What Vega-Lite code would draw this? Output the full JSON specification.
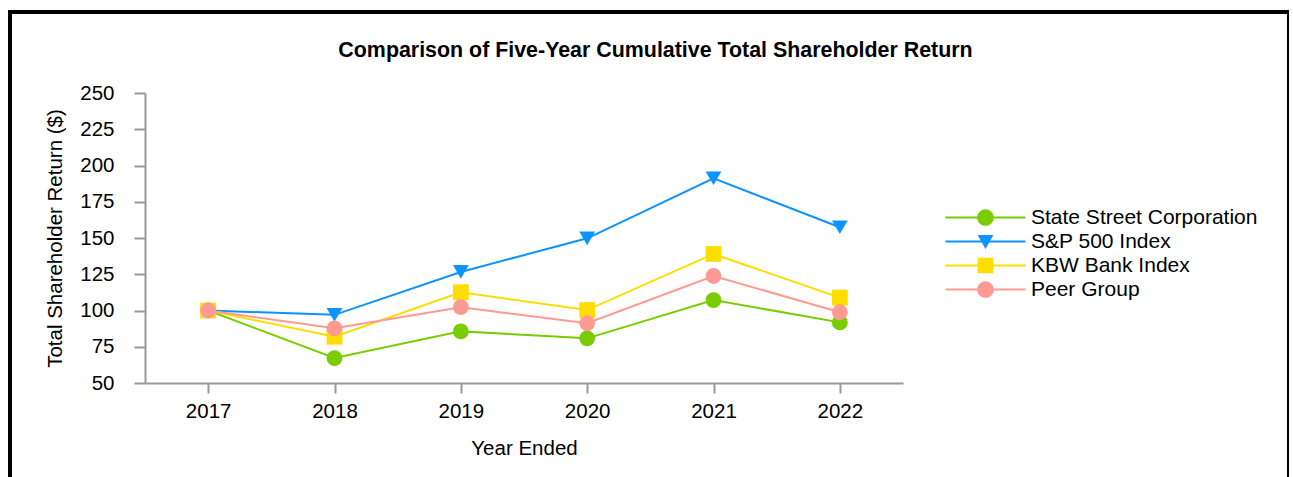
{
  "$schema": "https://vega.github.io/schema/vega-lite/v6.json",
  "width": 1279,
  "height": 465,
  "autosize": {"type": "none"},
  "padding": {"left": 10, "top": 12, "right": 0, "bottom": 0},
  "background": "white",
  "config": {
    "view": {"stroke": "black", "strokeWidth": 4, "strokeDash": [1744, 1279, 465]},
    "font": "Liberation Sans",
    "axis": {
      "grid": false,
      "domainColor": "#999999",
      "domainWidth": 2,
      "tickColor": "#999999",
      "tickWidth": 2,
      "labelColor": "black",
      "titleColor": "black",
      "labelFont": "Liberation Sans",
      "titleFont": "Liberation Sans",
      "labelFontSize": 20.5,
      "titleFontSize": 20.5,
      "titleFontWeight": "normal"
    }
  },
  "title": {
    "text": "Comparison of Five-Year Cumulative Total Shareholder Return",
    "anchor": "middle",
    "frame": "group",
    "font": "Liberation Sans",
    "fontSize": 21.4,
    "fontWeight": "bold",
    "color": "black",
    "offset": -66,
    "baseline": "alphabetic",
    "dx": 6
  },
  "data": {
    "values": [
      {"series": "State Street Corporation", "year": "2017", "value": 100},
      {"series": "State Street Corporation", "year": "2018", "value": 67.2},
      {"series": "State Street Corporation", "year": "2019", "value": 85.6},
      {"series": "State Street Corporation", "year": "2020", "value": 80.8},
      {"series": "State Street Corporation", "year": "2021", "value": 107.2},
      {"series": "State Street Corporation", "year": "2022", "value": 91.8},
      {"series": "S&P 500 Index", "year": "2017", "value": 100},
      {"series": "S&P 500 Index", "year": "2018", "value": 97},
      {"series": "S&P 500 Index", "year": "2019", "value": 126.6},
      {"series": "S&P 500 Index", "year": "2020", "value": 149.8},
      {"series": "S&P 500 Index", "year": "2021", "value": 191.2},
      {"series": "S&P 500 Index", "year": "2022", "value": 157.4},
      {"series": "KBW Bank Index", "year": "2017", "value": 100},
      {"series": "KBW Bank Index", "year": "2018", "value": 81.9},
      {"series": "KBW Bank Index", "year": "2019", "value": 112.6},
      {"series": "KBW Bank Index", "year": "2020", "value": 100.3},
      {"series": "KBW Bank Index", "year": "2021", "value": 139},
      {"series": "KBW Bank Index", "year": "2022", "value": 108.9},
      {"series": "Peer Group", "year": "2017", "value": 100},
      {"series": "Peer Group", "year": "2018", "value": 87.7},
      {"series": "Peer Group", "year": "2019", "value": 102.3},
      {"series": "Peer Group", "year": "2020", "value": 91.2},
      {"series": "Peer Group", "year": "2021", "value": 123.8},
      {"series": "Peer Group", "year": "2022", "value": 98.8}
    ]
  },
  "encoding": {
    "x": {
      "field": "year",
      "type": "ordinal",
      "scale": {"type": "point", "range": [135, 893], "padding": 0.5},
      "axis": {"title": "Year Ended", "labelAngle": 0, "offset": -94, "tickSize": 10, "labelPadding": 8, "titlePadding": 17}
    },
    "y": {
      "field": "value",
      "type": "quantitative",
      "scale": {"domain": [50, 250], "range": [371, 81], "nice": false, "zero": false},
      "axis": {"title": "Total Shareholder Return ($)", "values": [50, 75, 100, 125, 150, 175, 200, 225, 250], "offset": -135, "tickSize": 11, "labelPadding": 20, "titlePadding": 14}
    },
    "color": {
      "field": "series",
      "type": "nominal",
      "sort": null,
      "scale": {
        "domain": ["State Street Corporation", "S&P 500 Index", "KBW Bank Index", "Peer Group"],
        "range": ["#78cc00", "#0b93ff", "#ffdd00", "#ff9a92"]
      },
      "legend": {
        "title": null,
        "orient": "none",
        "legendX": 965,
        "legendY": 195,
        "padding": 0,
        "symbolSize": 256,
        "labelOffset": 35,
        "labelFont": "Liberation Sans",
        "labelFontSize": 21,
        "labelColor": "black",
        "labelLimit": 400,
        "rowPadding": 2,
        "encode": {
          "symbols": {
            "update": {
              "shape": {"signal": "datum.value === 'S&P 500 Index' ? 'M-5,-0.125H5V0.125H-5Z M-0.98,-0.8H0.98L0,0.95Z' : datum.value === 'KBW Bank Index' ? 'M-5,-0.125H5V0.125H-5Z M-0.98,-0.98H0.98V0.98H-0.98Z' : 'M-5,-0.125H5V0.125H-5Z M1.04,0A1.04,1.04 0 1,1 -1.04,0A1.04,1.04 0 1,1 1.04,0Z'"},
              "fill": {"scale": "color", "field": "value"},
              "stroke": {"value": "transparent"},
              "strokeWidth": {"value": 0},
              "opacity": {"value": 1},
              "size": {"value": 256}
            }
          }
        }
      }
    }
  },
  "layer": [
    {
      "mark": {"type": "line", "strokeWidth": 2}
    },
    {
      "transform": [{"filter": "datum.series === 'State Street Corporation'"}],
      "mark": {"type": "point", "shape": "circle", "filled": true, "size": 250, "opacity": 1}
    },
    {
      "transform": [{"filter": "datum.series === 'S&P 500 Index'"}],
      "mark": {"type": "point", "shape": "triangle-down", "filled": true, "size": 250, "opacity": 1}
    },
    {
      "transform": [{"filter": "datum.series === 'KBW Bank Index'"}],
      "mark": {"type": "point", "shape": "square", "filled": true, "size": 250, "opacity": 1}
    },
    {
      "transform": [{"filter": "datum.series === 'Peer Group'"}],
      "mark": {"type": "point", "shape": "circle", "filled": true, "size": 250, "opacity": 1}
    }
  ]
}
